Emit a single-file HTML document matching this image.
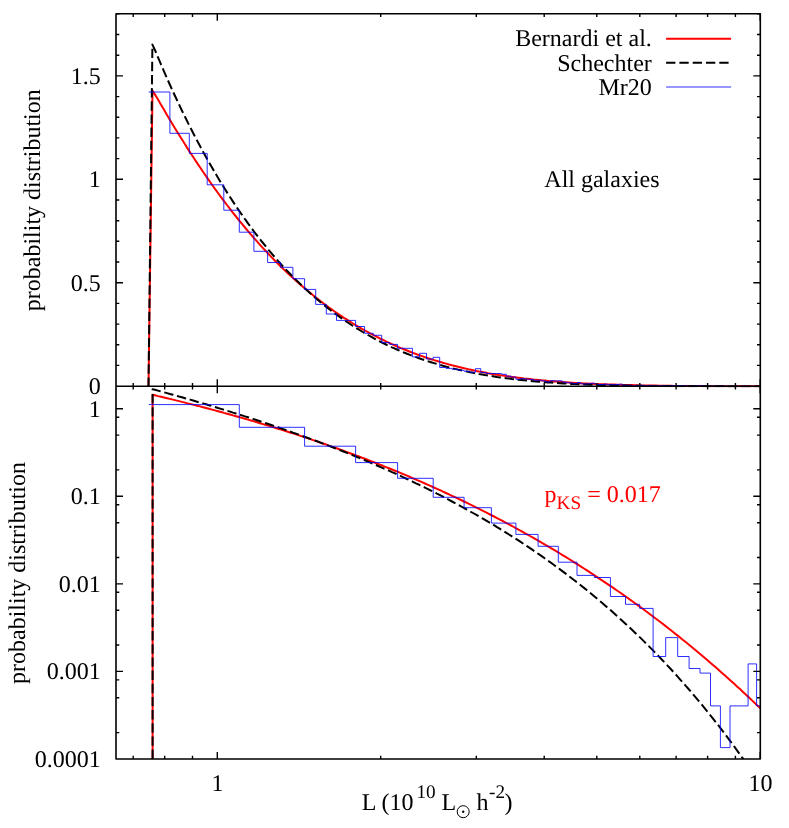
<!DOCTYPE html>
<html><head><meta charset="utf-8"><title>plot</title>
<style>
html,body{margin:0;padding:0;background:#fff;}
body{width:789px;height:828px;overflow:hidden;}
svg{display:block;will-change:transform;}
text{text-rendering:geometricPrecision;font-family:"Liberation Serif",serif;font-size:24px;fill:#000;}
</style></head><body>
<svg width="789" height="828" viewBox="0 0 789 828">
<rect width="789" height="828" fill="#fff"/>
<defs><clipPath id="cu"><rect x="116.0" y="13.8" width="644.3" height="373.5"/></clipPath>
<clipPath id="cl"><rect x="116.0" y="386.3" width="644.3" height="372.7"/></clipPath></defs>
<g fill="none" stroke-linejoin="round">
<g clip-path="url(#cu)">
<path d="M148.5,386.3 L152.5,90.6 L155.0,94.5 L158.0,99.6 L161.0,104.7 L164.0,109.8 L167.0,114.9 L170.0,119.9 L173.0,124.9 L176.0,129.9 L179.0,134.7 L182.0,139.6 L185.0,144.3 L188.0,149.1 L191.0,153.7 L194.0,158.3 L197.0,162.9 L200.0,167.3 L203.0,171.8 L206.0,176.1 L209.0,180.4 L212.0,184.7 L215.0,188.9 L218.0,193.0 L221.0,197.1 L224.0,201.1 L227.0,205.0 L230.0,208.9 L233.0,212.8 L236.0,216.5 L239.0,220.3 L242.0,223.9 L245.0,227.5 L248.0,231.1 L251.0,234.6 L254.0,238.1 L257.0,241.4 L260.0,244.8 L263.0,248.1 L266.0,251.3 L269.0,254.5 L272.0,257.6 L275.0,260.7 L278.0,263.7 L281.0,266.7 L284.0,269.6 L287.0,272.4 L290.0,275.3 L293.0,278.0 L296.0,280.7 L299.0,283.4 L302.0,286.0 L305.0,288.6 L308.0,291.1 L311.0,293.6 L314.0,296.0 L317.0,298.4 L320.0,300.7 L323.0,303.0 L326.0,305.3 L329.0,307.5 L332.0,309.6 L335.0,311.7 L338.0,313.8 L341.0,315.8 L344.0,317.8 L347.0,319.7 L350.0,321.6 L353.0,323.5 L356.0,325.3 L359.0,327.1 L362.0,328.8 L365.0,330.5 L368.0,332.2 L371.0,333.8 L374.0,335.4 L377.0,336.9 L380.0,338.5 L383.0,339.9 L386.0,341.4 L389.0,342.8 L392.0,344.2 L395.0,345.5 L398.0,346.8 L401.0,348.1 L404.0,349.3 L407.0,350.5 L410.0,351.7 L413.0,352.9 L416.0,354.0 L419.0,355.1 L422.0,356.1 L425.0,357.2 L428.0,358.2 L431.0,359.2 L434.0,360.1 L437.0,361.0 L440.0,361.9 L443.0,362.8 L446.0,363.6 L449.0,364.5 L452.0,365.3 L455.0,366.0 L458.0,366.8 L461.0,367.5 L464.0,368.2 L467.0,368.9 L470.0,369.6 L473.0,370.2 L476.0,370.9 L479.0,371.5 L482.0,372.0 L485.0,372.6 L488.0,373.2 L491.0,373.7 L494.0,374.2 L497.0,374.7 L500.0,375.2 L503.0,375.6 L506.0,376.1 L509.0,376.5 L512.0,376.9 L515.0,377.3 L518.0,377.7 L521.0,378.1 L524.0,378.5 L527.0,378.8 L530.0,379.1 L533.0,379.5 L536.0,379.8 L539.0,380.1 L542.0,380.4 L545.0,380.6 L548.0,380.9 L551.0,381.2 L554.0,381.4 L557.0,381.6 L560.0,381.9 L563.0,382.1 L566.0,382.3 L569.0,382.5 L572.0,382.7 L575.0,382.9 L578.0,383.0 L581.0,383.2 L584.0,383.4 L587.0,383.5 L590.0,383.7 L593.0,383.8 L596.0,383.9 L599.0,384.1 L602.0,384.2 L605.0,384.3 L608.0,384.4 L611.0,384.5 L614.0,384.6 L617.0,384.7 L620.0,384.8 L623.0,384.9 L626.0,385.0 L629.0,385.1 L632.0,385.1 L635.0,385.2 L638.0,385.3 L641.0,385.4 L644.0,385.4 L647.0,385.5 L650.0,385.5 L653.0,385.6 L656.0,385.6 L659.0,385.7 L662.0,385.7 L665.0,385.8 L668.0,385.8 L671.0,385.8 L674.0,385.9 L677.0,385.9 L680.0,385.9 L683.0,386.0 L686.0,386.0 L689.0,386.0 L692.0,386.0 L695.0,386.1 L698.0,386.1 L701.0,386.1 L704.0,386.1 L707.0,386.2 L710.0,386.2 L713.0,386.2 L716.0,386.2 L719.0,386.2 L722.0,386.2 L725.0,386.2 L728.0,386.3 L731.0,386.3 L734.0,386.3 L737.0,386.3 L740.0,386.3 L743.0,386.3 L746.0,386.3 L749.0,386.3 L752.0,386.3 L755.0,386.3 L758.0,386.3 L760.3,386.3" stroke="#ff0000" stroke-width="2"/>
<path d="M148.5,386.3 L152.4,44.6 L155.0,50.2 L158.0,57.4 L161.0,64.4 L164.0,71.4 L167.0,78.2 L170.0,85.0 L173.0,91.6 L176.0,98.0 L179.0,104.4 L182.0,110.7 L185.0,116.8 L188.0,122.9 L191.0,128.8 L194.0,134.7 L197.0,140.4 L200.0,146.0 L203.0,151.6 L206.0,157.0 L209.0,162.3 L212.0,167.6 L215.0,172.7 L218.0,177.8 L221.0,182.7 L224.0,187.6 L227.0,192.4 L230.0,197.0 L233.0,201.6 L236.0,206.2 L239.0,210.6 L242.0,214.9 L245.0,219.2 L248.0,223.3 L251.0,227.4 L254.0,231.5 L257.0,235.4 L260.0,239.3 L263.0,243.0 L266.0,246.7 L269.0,250.4 L272.0,253.9 L275.0,257.4 L278.0,260.8 L281.0,264.2 L284.0,267.5 L287.0,270.7 L290.0,273.8 L293.0,276.9 L296.0,279.9 L299.0,282.8 L302.0,285.7 L305.0,288.6 L308.0,291.3 L311.0,294.0 L314.0,296.7 L317.0,299.2 L320.0,301.8 L323.0,304.2 L326.0,306.6 L329.0,309.0 L332.0,311.3 L335.0,313.6 L338.0,315.8 L341.0,317.9 L344.0,320.0 L347.0,322.0 L350.0,324.0 L353.0,326.0 L356.0,327.9 L359.0,329.7 L362.0,331.5 L365.0,333.3 L368.0,335.0 L371.0,336.7 L374.0,338.3 L377.0,339.9 L380.0,341.5 L383.0,343.0 L386.0,344.5 L389.0,345.9 L392.0,347.3 L395.0,348.6 L398.0,350.0 L401.0,351.2 L404.0,352.5 L407.0,353.7 L410.0,354.9 L413.0,356.0 L416.0,357.1 L419.0,358.2 L422.0,359.3 L425.0,360.3 L428.0,361.3 L431.0,362.2 L434.0,363.1 L437.0,364.0 L440.0,364.9 L443.0,365.8 L446.0,366.6 L449.0,367.4 L452.0,368.1 L455.0,368.9 L458.0,369.6 L461.0,370.3 L464.0,371.0 L467.0,371.6 L470.0,372.2 L473.0,372.8 L476.0,373.4 L479.0,374.0 L482.0,374.5 L485.0,375.1 L488.0,375.6 L491.0,376.0 L494.0,376.5 L497.0,377.0 L500.0,377.4 L503.0,377.8 L506.0,378.2 L509.0,378.6 L512.0,379.0 L515.0,379.3 L518.0,379.7 L521.0,380.0 L524.0,380.3 L527.0,380.6 L530.0,380.9 L533.0,381.2 L536.0,381.5 L539.0,381.7 L542.0,382.0 L545.0,382.2 L548.0,382.4 L551.0,382.6 L554.0,382.9 L557.0,383.0 L560.0,383.2 L563.0,383.4 L566.0,383.6 L569.0,383.7 L572.0,383.9 L575.0,384.0 L578.0,384.2 L581.0,384.3 L584.0,384.4 L587.0,384.6 L590.0,384.7 L593.0,384.8 L596.0,384.9 L599.0,385.0 L602.0,385.1 L605.0,385.1 L608.0,385.2 L611.0,385.3 L614.0,385.4 L617.0,385.4 L620.0,385.5 L623.0,385.6 L626.0,385.6 L629.0,385.7 L632.0,385.7 L635.0,385.8 L638.0,385.8 L641.0,385.9 L644.0,385.9 L647.0,385.9 L650.0,386.0 L653.0,386.0 L656.0,386.0 L659.0,386.1 L662.0,386.1 L665.0,386.1 L668.0,386.1 L671.0,386.2 L674.0,386.2 L677.0,386.2 L680.0,386.2 L683.0,386.2 L686.0,386.2 L689.0,386.3 L692.0,386.3 L695.0,386.3 L698.0,386.3 L701.0,386.3 L704.0,386.3 L707.0,386.3 L710.0,386.3 L713.0,386.3 L716.0,386.3 L719.0,386.3 L722.0,386.3 L725.0,386.4 L728.0,386.4 L731.0,386.4 L734.0,386.4 L737.0,386.4 L740.0,386.4 L743.0,386.4 L746.0,386.4 L749.0,386.4 L752.0,386.4 L755.0,386.4 L758.0,386.4 L760.3,386.4" stroke="#000" stroke-width="2" stroke-dasharray="9.4 3.75" stroke-dashoffset="0.5"/>
<path d="M148.8,92.0 L169.9,92.0 L169.9,133.3 L189.3,133.3 L189.3,153.4 L207.2,153.4 L207.2,184.8 L223.8,184.8 L223.8,210.2 L239.3,210.2 L239.3,232.2 L253.9,232.2 L253.9,251.3 L267.6,251.3 L267.6,262.5 L280.6,262.5 L280.6,267.3 L292.9,267.3 L292.9,278.7 L304.6,278.7 L304.6,289.4 L315.7,289.4 L315.7,304.4 L326.3,304.4 L326.3,314.0 L336.5,314.0 L336.5,320.4 L346.3,320.4 L346.3,320.4 L355.6,320.4 L355.6,326.5 L364.6,326.5 L364.6,333.3 L373.3,333.3 L373.3,335.3 L381.7,335.3 L381.7,342.5 L389.7,342.5 L389.7,344.4 L397.6,344.4 L397.6,348.3 L405.1,348.3 L405.1,348.3 L412.4,348.3 L412.4,356.9 L419.6,356.9 L419.6,353.3 L426.5,353.3 L426.5,359.0 L433.2,359.0 L433.2,357.3 L439.7,357.3 L439.7,367.5 L446.0,367.5 L446.0,368.4 L452.2,368.4 L452.2,369.3 L458.2,369.3 L458.2,370.3 L464.1,370.3 L464.1,371.3 L469.8,371.3 L469.8,372.3 L475.4,372.3 L475.4,368.7 L480.8,368.7 L480.8,372.5 L486.2,372.5 L486.2,373.5 L491.4,373.5 L491.4,373.5 L496.5,373.5 L496.5,373.5 L501.5,373.5 L501.5,374.3 L506.4,374.3 L506.4,376.2 L511.2,376.2 L511.2,377.1 L515.9,377.1 L515.9,379.3 L520.5,379.3 L520.5,378.6 L525.0,378.6 L525.0,379.1 L529.4,379.1 L529.4,379.4 L533.8,379.4 L533.8,380.3 L538.1,380.3 L538.1,380.2 L542.3,380.2 L542.3,381.0 L546.4,381.0 L546.4,382.0 L550.4,382.0 L550.4,380.6 L554.4,380.6 L554.4,381.0 L558.3,381.0 L558.3,380.8 L562.2,380.8 L562.2,382.1 L566.0,382.1 L566.0,382.7 L569.7,382.7 L569.7,383.0 L573.4,383.0 L573.4,383.7 L577.0,383.7 L577.0,382.6 L580.6,382.6 L580.6,383.8 L584.1,383.8 L584.1,384.0 L587.5,384.0 L587.5,383.7 L590.9,383.7 L590.9,383.2 L594.3,383.2 L594.3,383.9 L597.6,383.9 L597.6,384.5 L600.9,384.5 L600.9,384.5 L604.1,384.5 L604.1,384.1 L607.3,384.1 L607.3,384.5 L610.4,384.5 L610.4,384.8 L613.5,384.8 L613.5,384.7 L616.6,384.7 L616.6,384.5 L619.6,384.5 L619.6,384.2 L622.6,384.2 L622.6,385.3 L625.5,385.3 L625.5,385.2 L628.4,385.2 L628.4,385.3 L631.3,385.3 L631.3,385.8 L634.1,385.8 L634.1,385.5 L636.9,385.5 L636.9,385.6 L639.7,385.6 L639.7,385.1 L642.4,385.1 L642.4,385.4 L645.1,385.4 L645.1,385.8 L647.8,385.8 L647.8,385.4 L650.4,385.4 L650.4,385.6 L653.1,385.6 L653.1,386.0 L655.6,386.0 L655.6,385.8 L658.2,385.8 L658.2,385.8 L660.7,385.8 L660.7,385.9 L663.2,385.9 L663.2,385.7 L665.7,385.7 L665.7,386.2 L668.2,386.2 L668.2,385.9 L670.6,385.9 L670.6,385.7 L673.0,385.7 L673.0,385.7 L675.4,385.7 L675.4,385.7 L677.7,385.7 L677.7,385.7 L680.0,385.7 L680.0,385.7 L682.4,385.7 L682.4,386.2 L684.6,386.2 L684.6,385.8 L686.9,385.8 L686.9,386.3 L689.1,386.3 L689.1,386.1 L691.4,386.1 L691.4,386.4 L693.6,386.4 L693.6,385.9 L695.7,385.9 L695.7,385.9 L697.9,385.9 L697.9,386.1 L700.0,386.1 L700.0,385.8 L702.2,385.8 L702.2,386.2 L704.3,386.2 L704.3,386.1 L706.3,386.1 L706.3,386.1 L708.4,386.1 L708.4,386.3 L710.5,386.3 L710.5,386.1 L712.5,386.1 L712.5,385.9 L714.5,385.9 L714.5,386.4 L716.5,386.4 L716.5,386.1 L718.5,386.1 L718.5,386.2 L720.4,386.2 L720.4,386.0 L722.4,386.0 L722.4,386.2 L724.3,386.2 L724.3,386.1 L726.2,386.1 L726.2,386.2 L728.1,386.2 L728.1,386.2 L730.0,386.2 L730.0,386.4 L731.9,386.4 L731.9,386.1 L733.7,386.1 L733.7,386.4 L735.6,386.4 L735.6,386.2 L737.4,386.2 L737.4,386.2 L739.2,386.2 L739.2,386.4 L741.0,386.4 L741.0,386.3 L742.8,386.3 L742.8,386.1 L744.6,386.1 L744.6,386.3 L746.3,386.3 L746.3,386.4 L748.1,386.4 L748.1,386.4 L749.8,386.4 L749.8,386.4 L751.5,386.4 L751.5,386.4 L753.2,386.4 L753.2,386.4 L754.9,386.4 L754.9,386.4 L756.6,386.4 L756.6,386.3 L758.3,386.3 L758.3,386.4 L759.9,386.4 L759.9,386.4 L760.3,386.4" stroke="#0000ff" stroke-width="1" stroke-opacity="0.82"/>
</g>
<g clip-path="url(#cl)">
<path d="M152.6,759.0 L152.6,394.8 L155.0,395.3 L158.0,396.1 L161.0,396.8 L164.0,397.5 L167.0,398.2 L170.0,398.9 L173.0,399.6 L176.0,400.4 L179.0,401.1 L182.0,401.9 L185.0,402.6 L188.0,403.4 L191.0,404.1 L194.0,404.9 L197.0,405.7 L200.0,406.4 L203.0,407.2 L206.0,408.0 L209.0,408.8 L212.0,409.6 L215.0,410.4 L218.0,411.2 L221.0,412.0 L224.0,412.9 L227.0,413.7 L230.0,414.5 L233.0,415.4 L236.0,416.2 L239.0,417.0 L242.0,417.9 L245.0,418.8 L248.0,419.6 L251.0,420.5 L254.0,421.4 L257.0,422.3 L260.0,423.2 L263.0,424.1 L266.0,425.0 L269.0,425.9 L272.0,426.8 L275.0,427.7 L278.0,428.7 L281.0,429.6 L284.0,430.6 L287.0,431.5 L290.0,432.5 L293.0,433.4 L296.0,434.4 L299.0,435.4 L302.0,436.4 L305.0,437.4 L308.0,438.4 L311.0,439.4 L314.0,440.4 L317.0,441.4 L320.0,442.5 L323.0,443.5 L326.0,444.5 L329.0,445.6 L332.0,446.6 L335.0,447.7 L338.0,448.8 L341.0,449.9 L344.0,451.0 L347.0,452.1 L350.0,453.2 L353.0,454.3 L356.0,455.4 L359.0,456.5 L362.0,457.7 L365.0,458.8 L368.0,460.0 L371.0,461.1 L374.0,462.3 L377.0,463.5 L380.0,464.7 L383.0,465.8 L386.0,467.1 L389.0,468.3 L392.0,469.5 L395.0,470.7 L398.0,471.9 L401.0,473.2 L404.0,474.4 L407.0,475.7 L410.0,477.0 L413.0,478.3 L416.0,479.6 L419.0,480.9 L422.0,482.2 L425.0,483.5 L428.0,484.8 L431.0,486.1 L434.0,487.5 L437.0,488.8 L440.0,490.2 L443.0,491.6 L446.0,493.0 L449.0,494.4 L452.0,495.8 L455.0,497.2 L458.0,498.6 L461.0,500.0 L464.0,501.5 L467.0,502.9 L470.0,504.4 L473.0,505.9 L476.0,507.4 L479.0,508.9 L482.0,510.4 L485.0,511.9 L488.0,513.4 L491.0,515.0 L494.0,516.5 L497.0,518.1 L500.0,519.6 L503.0,521.2 L506.0,522.8 L509.0,524.4 L512.0,526.0 L515.0,527.7 L518.0,529.3 L521.0,531.0 L524.0,532.6 L527.0,534.3 L530.0,536.0 L533.0,537.7 L536.0,539.4 L539.0,541.1 L542.0,542.9 L545.0,544.6 L548.0,546.4 L551.0,548.1 L554.0,549.9 L557.0,551.7 L560.0,553.5 L563.0,555.4 L566.0,557.2 L569.0,559.0 L572.0,560.9 L575.0,562.8 L578.0,564.7 L581.0,566.6 L584.0,568.5 L587.0,570.4 L590.0,572.4 L593.0,574.3 L596.0,576.3 L599.0,578.3 L602.0,580.3 L605.0,582.3 L608.0,584.3 L611.0,586.3 L614.0,588.4 L617.0,590.5 L620.0,592.5 L623.0,594.6 L626.0,596.8 L629.0,598.9 L632.0,601.0 L635.0,603.2 L638.0,605.4 L641.0,607.5 L644.0,609.8 L647.0,612.0 L650.0,614.2 L653.0,616.5 L656.0,618.7 L659.0,621.0 L662.0,623.3 L665.0,625.6 L668.0,628.0 L671.0,630.3 L674.0,632.7 L677.0,635.1 L680.0,637.4 L683.0,639.9 L686.0,642.3 L689.0,644.7 L692.0,647.2 L695.0,649.7 L698.0,652.2 L701.0,654.7 L704.0,657.3 L707.0,659.8 L710.0,662.4 L713.0,665.0 L716.0,667.6 L719.0,670.2 L722.0,672.9 L725.0,675.5 L728.0,678.2 L731.0,680.9 L734.0,683.6 L737.0,686.4 L740.0,689.1 L743.0,691.9 L746.0,694.7 L749.0,697.5 L752.0,700.4 L755.0,703.2 L758.0,706.1 L760.3,708.3" stroke="#ff0000" stroke-width="2"/>
<path d="M152.6,759.0 L152.6,389.2 L155.0,389.8 L158.0,390.6 L161.0,391.5 L164.0,392.3 L167.0,393.1 L170.0,394.0 L173.0,394.8 L176.0,395.6 L179.0,396.5 L182.0,397.3 L185.0,398.2 L188.0,399.1 L191.0,399.9 L194.0,400.8 L197.0,401.7 L200.0,402.6 L203.0,403.4 L206.0,404.3 L209.0,405.2 L212.0,406.1 L215.0,407.0 L218.0,408.0 L221.0,408.9 L224.0,409.8 L227.0,410.7 L230.0,411.6 L233.0,412.6 L236.0,413.5 L239.0,414.5 L242.0,415.4 L245.0,416.4 L248.0,417.3 L251.0,418.3 L254.0,419.3 L257.0,420.3 L260.0,421.3 L263.0,422.3 L266.0,423.3 L269.0,424.3 L272.0,425.3 L275.0,426.3 L278.0,427.3 L281.0,428.4 L284.0,429.4 L287.0,430.4 L290.0,431.5 L293.0,432.6 L296.0,433.6 L299.0,434.7 L302.0,435.8 L305.0,436.9 L308.0,438.0 L311.0,439.1 L314.0,440.2 L317.0,441.3 L320.0,442.4 L323.0,443.6 L326.0,444.7 L329.0,445.9 L332.0,447.0 L335.0,448.2 L338.0,449.4 L341.0,450.5 L344.0,451.7 L347.0,452.9 L350.0,454.2 L353.0,455.4 L356.0,456.6 L359.0,457.8 L362.0,459.1 L365.0,460.3 L368.0,461.6 L371.0,462.9 L374.0,464.2 L377.0,465.5 L380.0,466.8 L383.0,468.1 L386.0,469.4 L389.0,470.7 L392.0,472.1 L395.0,473.4 L398.0,474.8 L401.0,476.2 L404.0,477.6 L407.0,479.0 L410.0,480.4 L413.0,481.8 L416.0,483.3 L419.0,484.7 L422.0,486.2 L425.0,487.6 L428.0,489.1 L431.0,490.6 L434.0,492.1 L437.0,493.7 L440.0,495.2 L443.0,496.7 L446.0,498.3 L449.0,499.9 L452.0,501.5 L455.0,503.1 L458.0,504.7 L461.0,506.3 L464.0,508.0 L467.0,509.6 L470.0,511.3 L473.0,513.0 L476.0,514.7 L479.0,516.4 L482.0,518.1 L485.0,519.9 L488.0,521.7 L491.0,523.4 L494.0,525.2 L497.0,527.1 L500.0,528.9 L503.0,530.7 L506.0,532.6 L509.0,534.5 L512.0,536.4 L515.0,538.3 L518.0,540.2 L521.0,542.2 L524.0,544.2 L527.0,546.2 L530.0,548.2 L533.0,550.2 L536.0,552.3 L539.0,554.3 L542.0,556.4 L545.0,558.5 L548.0,560.7 L551.0,562.8 L554.0,565.0 L557.0,567.2 L560.0,569.4 L563.0,571.6 L566.0,573.9 L569.0,576.2 L572.0,578.5 L575.0,580.8 L578.0,583.2 L581.0,585.5 L584.0,587.9 L587.0,590.3 L590.0,592.8 L593.0,595.3 L596.0,597.8 L599.0,600.3 L602.0,602.8 L605.0,605.4 L608.0,608.0 L611.0,610.6 L614.0,613.3 L617.0,616.0 L620.0,618.7 L623.0,621.4 L626.0,624.2 L629.0,627.0 L632.0,629.8 L635.0,632.7 L638.0,635.5 L641.0,638.4 L644.0,641.4 L647.0,644.4 L650.0,647.4 L653.0,650.4 L656.0,653.5 L659.0,656.6 L662.0,659.7 L665.0,662.9 L668.0,666.1 L671.0,669.3 L674.0,672.6 L677.0,675.9 L680.0,679.3 L683.0,682.7 L686.0,686.1 L689.0,689.5 L692.0,693.0 L695.0,696.6 L698.0,700.1 L701.0,703.7 L704.0,707.4 L707.0,711.1 L710.0,714.8 L713.0,718.6 L716.0,722.4 L719.0,726.2 L722.0,730.1 L725.0,734.1 L728.0,738.1 L731.0,742.1 L734.0,746.2 L737.0,750.3 L740.0,754.5 L743.0,758.7 L746.0,762.9 L749.0,767.3 L752.0,771.6 L755.0,776.0 L758.0,780.5 L760.3,783.9" stroke="#000" stroke-width="2" stroke-dasharray="9.4 3.77"/>
<path d="M148.8,404.6 L239.3,404.6 L239.3,427.3 L304.6,427.3 L304.6,446.2 L355.6,446.2 L355.6,462.6 L397.6,462.6 L397.6,478.3 L433.2,478.3 L433.2,497.3 L464.1,497.3 L464.1,507.7 L491.4,507.7 L491.4,523.1 L515.9,523.1 L515.9,534.4 L538.1,534.4 L538.1,546.3 L558.3,546.3 L558.3,562.2 L577.0,562.2 L577.0,575.4 L594.3,575.4 L594.3,577.5 L610.4,577.5 L610.4,596.5 L625.5,596.5 L625.5,604.3 L639.7,604.3 L639.7,608.4 L653.1,608.4 L653.1,656.5 L665.7,656.5 L665.7,637.6 L677.7,637.6 L677.7,656.5 L689.1,656.5 L689.1,668.5 L700.0,668.5 L700.0,673.1 L710.5,673.1 L710.5,705.9 L720.4,705.9 L720.4,747.6 L730.0,747.6 L730.0,705.9 L739.2,705.9 L739.2,705.9 L748.1,705.9 L748.1,663.9 L756.6,663.9 L756.6,705.9 L760.3,705.9" stroke="#0000ff" stroke-width="1" stroke-opacity="0.82"/>
</g>
<path d="M666.1,38.7H731.1" stroke="#ff0000" stroke-width="2"/>
<path d="M666.1,62.8H731.1" stroke="#000" stroke-width="2" stroke-dasharray="9.3 4"/>
<path d="M666.1,87.0H731.1" stroke="#0000ff" stroke-width="1" stroke-opacity="0.82"/>
<path d="M133.2,13.8V17.1M133.2,383.0V389.6M133.2,759.0V755.7M164.7,13.8V17.1M164.7,383.0V389.6M164.7,759.0V755.7M192.5,13.8V17.1M192.5,383.0V389.6M192.5,759.0V755.7M217.3,13.8V20.8M217.3,379.3V393.3M217.3,759.0V752.0M380.7,13.8V17.1M380.7,383.0V389.6M380.7,759.0V755.7M476.3,13.8V17.1M476.3,383.0V389.6M476.3,759.0V755.7M544.2,13.8V17.1M544.2,383.0V389.6M544.2,759.0V755.7M596.8,13.8V17.1M596.8,383.0V389.6M596.8,759.0V755.7M639.8,13.8V17.1M639.8,383.0V389.6M639.8,759.0V755.7M676.1,13.8V17.1M676.1,383.0V389.6M676.1,759.0V755.7M707.6,13.8V17.1M707.6,383.0V389.6M707.6,759.0V755.7M735.4,13.8V17.1M735.4,383.0V389.6M735.4,759.0V755.7M760.2,13.8V20.8M760.2,379.3V393.3M760.2,759.0V752.0M116.0,365.4H119.3M760.3,365.4H757.0M116.0,344.7H119.3M760.3,344.7H757.0M116.0,324.1H119.3M760.3,324.1H757.0M116.0,303.4H119.3M760.3,303.4H757.0M116.0,282.7H123.0M760.3,282.7H753.3M116.0,262.0H119.3M760.3,262.0H757.0M116.0,241.3H119.3M760.3,241.3H757.0M116.0,220.7H119.3M760.3,220.7H757.0M116.0,200.0H119.3M760.3,200.0H757.0M116.0,179.3H123.0M760.3,179.3H753.3M116.0,158.6H119.3M760.3,158.6H757.0M116.0,137.9H119.3M760.3,137.9H757.0M116.0,117.3H119.3M760.3,117.3H757.0M116.0,96.6H119.3M760.3,96.6H757.0M116.0,75.9H123.0M760.3,75.9H753.3M116.0,55.2H119.3M760.3,55.2H757.0M116.0,34.5H119.3M760.3,34.5H757.0M116.0,13.9H119.3M760.3,13.9H757.0M116.0,408.8H123.0M760.3,408.8H753.3M116.0,417.2H119.3M760.3,417.2H757.0M116.0,435.1H119.3M760.3,435.1H757.0M116.0,469.9H119.3M760.3,469.9H757.0M116.0,496.3H123.0M760.3,496.3H753.3M116.0,504.8H119.3M760.3,504.8H757.0M116.0,522.7H119.3M760.3,522.7H757.0M116.0,557.5H119.3M760.3,557.5H757.0M116.0,583.9H123.0M760.3,583.9H753.3M116.0,592.3H119.3M760.3,592.3H757.0M116.0,610.2H119.3M760.3,610.2H757.0M116.0,645.0H119.3M760.3,645.0H757.0M116.0,671.4H123.0M760.3,671.4H753.3M116.0,679.9H119.3M760.3,679.9H757.0M116.0,697.8H119.3M760.3,697.8H757.0M116.0,732.6H119.3M760.3,732.6H757.0" stroke="#000" stroke-width="1.4"/>
<rect x="116.0" y="13.8" width="644.3" height="745.2" stroke="#000" stroke-width="1.6"/><path d="M116.0,386.3H760.3" stroke="#000" stroke-width="1.6"/>
</g>
<text x="100.8" y="393.9" text-anchor="end" >0</text>
<text x="100.8" y="290.5" text-anchor="end" >0.5</text>
<text x="100.8" y="187.1" text-anchor="end" >1</text>
<text x="100.8" y="83.7" text-anchor="end" >1.5</text>
<text x="100.8" y="416.6" text-anchor="end" >1</text>
<text x="100.8" y="504.2" text-anchor="end" >0.1</text>
<text x="100.8" y="591.8" text-anchor="end" >0.01</text>
<text x="100.8" y="679.3" text-anchor="end" >0.001</text>
<text x="100.8" y="766.9" text-anchor="end" >0.0001</text>
<text x="217.6" y="791.3" text-anchor="middle" >1</text>
<text x="760.5" y="791.3" text-anchor="middle" >10</text>
<text x="651.8" y="46.4" text-anchor="end" >Bernardi et al.</text>
<text x="651.8" y="70.6" text-anchor="end" >Schechter</text>
<text x="651.8" y="94.8" text-anchor="end" >Mr20</text>
<text x="544.3" y="187.2" text-anchor="start" >All galaxies</text>
<text x="544.6" y="502.2" style="fill:#ff0000">p<tspan font-size="19.2" dy="6.8">KS</tspan><tspan dy="-6.8"> = 0.017</tspan></text>
<text transform="translate(39.6,200.2) rotate(-90)" text-anchor="middle">probability distribution</text>
<text transform="translate(25.3,573.0) rotate(-90)" text-anchor="middle">probability distribution</text>
<text x="361.7" y="809.6">L (10</text>
<text x="416.5" y="798.0" font-size="19.2" style="font-size:19.2px">10</text>
<text x="441.4" y="809.6">L</text>
<circle cx="463.2" cy="811.7" r="6.0" fill="none" stroke="#000" stroke-width="1"/><circle cx="463.2" cy="811.7" r="1.2" fill="#000"/>
<text x="476.6" y="809.6">h</text>
<text x="489.0" y="798.0" style="font-size:19.2px">-2</text>
<text x="504.5" y="809.6">)</text>
</svg></body></html>
